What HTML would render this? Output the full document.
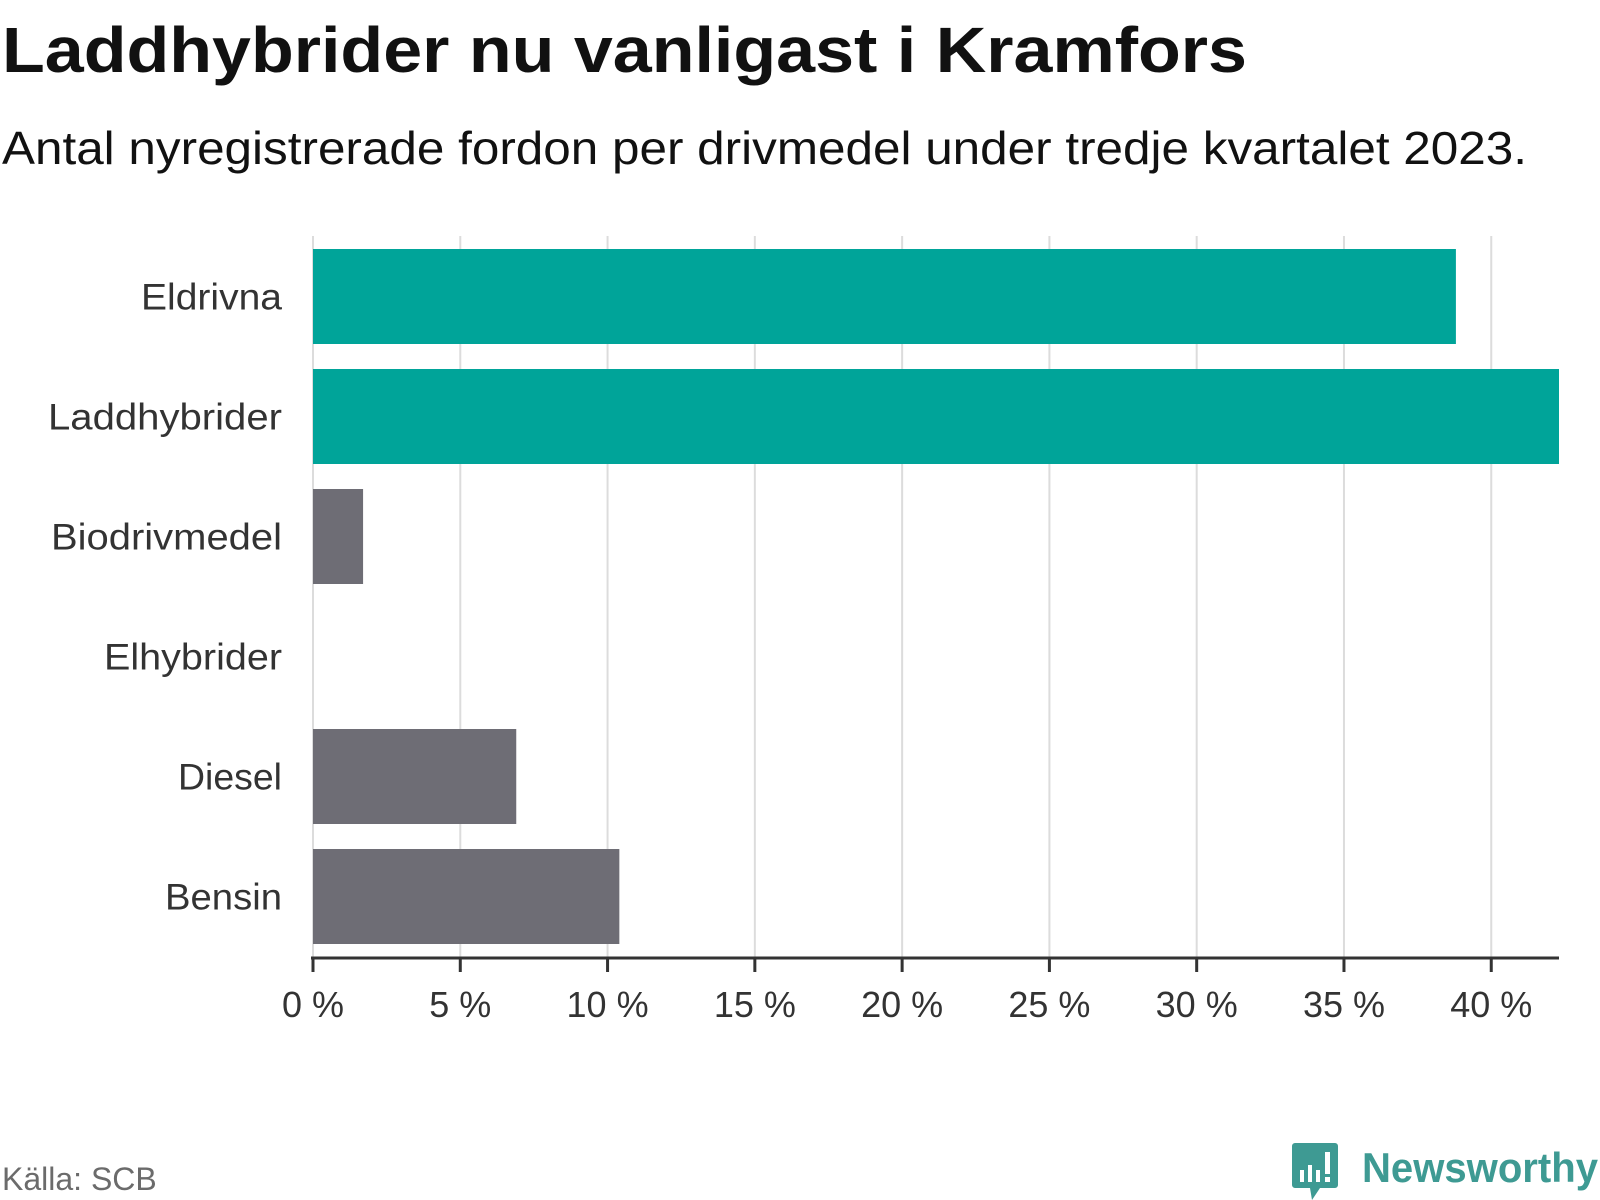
<!DOCTYPE html>
<html><head><meta charset="utf-8"><style>
html,body{margin:0;padding:0;background:#fff;}
svg{display:block;font-family:"Liberation Sans",sans-serif;}
</style></head><body>
<svg width="1600" height="1200" viewBox="0 0 1600 1200">
<text x="2" y="72" font-size="64" font-weight="bold" fill="#111" textLength="1245" lengthAdjust="spacingAndGlyphs">Laddhybrider nu vanligast i Kramfors</text>
<text x="2" y="164" font-size="46" fill="#111" textLength="1525" lengthAdjust="spacingAndGlyphs">Antal nyregistrerade fordon per drivmedel under tredje kvartalet 2023.</text>
<g id="grid"></g>
<g id="bars"></g>
<g id="labels"></g>
<g id="axis"></g>
<text x="2" y="1190" font-size="32" fill="#6b6b6b">Källa: SCB</text>
<g>
<path d="M1295 1143 h40 a3 3 0 0 1 3 3 v39 a3 3 0 0 1 -3 3 h-15 l-8 12 l-2 -12 h-15 a3 3 0 0 1 -3 -3 v-39 a3 3 0 0 1 3 -3z" fill="#3e9a93"/>
<rect x="1300" y="1170" width="4" height="12" fill="#fff"/><rect x="1308" y="1165" width="4" height="17" fill="#fff"/><rect x="1316" y="1170" width="4" height="12" fill="#fff"/><rect x="1325" y="1152" width="5" height="22" fill="#fff"/><rect x="1325" y="1177" width="5" height="5" fill="#fff"/>
<text x="1362" y="1182" font-size="42" font-weight="bold" fill="#3e9a93" textLength="236" lengthAdjust="spacingAndGlyphs">Newsworthy</text>
</g>
</svg>
<script>
const categories=["Eldrivna","Laddhybrider","Biodrivmedel","Elhybrider","Diesel","Bensin"];
const values=[38.8,42.3,1.7,0,6.9,10.4];
const highlight=[true,true,false,false,false,false];
const ticks=[0,5,10,15,20,25,30,35,40];
const tickLabels=["0 %","5 %","10 %","15 %","20 %","25 %","30 %","35 %","40 %"];
const labelWidths=[141,234,231,178,104,117];
const xMax=42.3;
const NS="http://www.w3.org/2000/svg";
const x0=313,x1=1559,plotTop=236,axisY=958,bandTop=249,step=120,barH=95;
const xs=v=>x0+(x1-x0)*v/xMax;
function mk(tag,attrs,parent){const e=document.createElementNS(NS,tag);for(const k in attrs)e.setAttribute(k,attrs[k]);document.getElementById(parent).appendChild(e);return e;}
ticks.forEach((t,i)=>{
 const g=mk("line",{x1:xs(t),x2:xs(t),y1:plotTop,y2:axisY,stroke:"#dcdcdc","stroke-width":2},"grid");
 
 
 const tk=mk("line",{x1:xs(t),x2:xs(t),y1:axisY,y2:axisY+14,stroke:"#333","stroke-width":3},"axis");
 
 
 const tl=mk("text",{x:xs(t),y:1017,"font-size":36,fill:"#333","text-anchor":"middle"},"axis");
 tl.textContent=tickLabels[i];
 
 
});
const ax=mk("line",{x1:x0-2,x2:x1,y1:axisY,y2:axisY,stroke:"#333","stroke-width":3},"axis");


categories.forEach((c,i)=>{
 const y=bandTop+i*step;
 if(values[i]>0){
  const r=mk("rect",{x:x0,y:y,width:xs(values[i])-x0,height:barH,fill:highlight[i]?"#00a499":"#6e6d75"},"bars");
  
  
 }
 const l=mk("text",{x:282,y:y+barH/2+13,"font-size":37,fill:"#333","text-anchor":"end",textLength:labelWidths[i],lengthAdjust:"spacingAndGlyphs"},"labels");
 l.textContent=c;
 
 
});
</script>
</body></html>
